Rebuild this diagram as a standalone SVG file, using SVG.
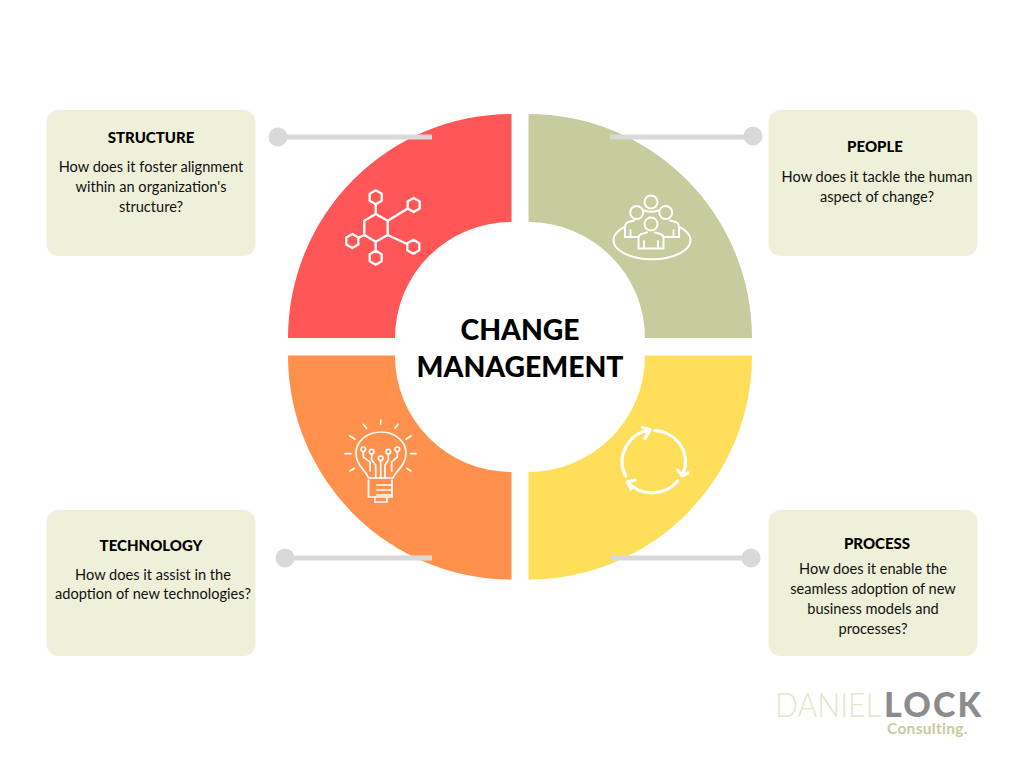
<svg xmlns="http://www.w3.org/2000/svg" width="1024" height="768" viewBox="0 0 1024 768">
<style>
.card{fill:#eff0da}
.h{font:900 15px "Lato","Liberation Sans",sans-serif;fill:#000;text-anchor:middle}
.b{font:400 14.600px "Lato","Liberation Sans",sans-serif;fill:#111;text-anchor:middle}
.t{font:900 28.300px "Lato","Liberation Sans",sans-serif;fill:#000;text-anchor:middle}
.ln{stroke:#d9d9d9;stroke-width:5;fill:none}
.dot{fill:#d9d9d9}
.ic{fill:none;stroke:#fff;stroke-width:2;stroke-linecap:round;stroke-linejoin:round}
.ic3{fill:none;stroke:#fff;stroke-width:3.200;stroke-linecap:round;stroke-linejoin:round}
.hex{fill:none;stroke:#fff;stroke-width:2.300;stroke-linecap:round;stroke-linejoin:round}
.bulb{fill:none;stroke:#fff;stroke-width:1.700;stroke-linecap:round;stroke-linejoin:round}
</style>
<defs>
<path id="sh" d="M0,-7L6,-3.500V3.500L0,7L-6,3.500V-3.500Z"/>
</defs>
<rect width="1024" height="768" fill="#fff"/>
<g id="ring">
<path id="seg-structure" fill="#ff5757" d="M288,338A223.500,224 0 0 1 511.500,114V222A116,116 0 0 0 395,338Z"/>
<path id="seg-people" fill="#c7cc9e" d="M528.500,114A223.500,224 0 0 1 752,338H645A117,116 0 0 0 528.500,222Z"/>
<path id="seg-technology" fill="#ff914d" d="M288,355.500A223.500,224 0 0 0 511.500,579.500V472A116,116 0 0 1 395,355.500Z"/>
<path id="seg-process" fill="#ffde59" d="M752,355.500A223.500,224 0 0 1 528.500,579.500V472A117,116 0 0 0 645,355.500Z"/>
</g>
<g id="connectors">
<line class="ln" x1="278" y1="137" x2="432" y2="137"/><circle class="dot" cx="278" cy="137" r="9.500"/>
<line class="ln" x1="610" y1="137" x2="753" y2="137"/><circle class="dot" cx="753" cy="136" r="9.500"/>
<line class="ln" x1="285" y1="558" x2="432" y2="558"/><circle class="dot" cx="285" cy="558" r="9.500"/>
<line class="ln" x1="610" y1="558" x2="751" y2="558"/><circle class="dot" cx="751" cy="558" r="9.500"/>
</g>
<g id="node-structure">
<rect class="card" x="46.500" y="110" width="209" height="146" rx="12"/>
<text class="h" x="151" y="143">STRUCTURE</text>
<text class="b" x="151" y="172">How does it foster alignment</text>
<text class="b" x="151" y="192">within an organization's</text>
<text class="b" x="151" y="212">structure?</text>
<g class="hex">
<path d="M375.700,214L387.700,220.700V235L375.700,241.700L364.300,235V220.700Z"/>
<path d="M375.700,204.300V214M387.700,220.700L407,209M387.700,235L407,244M375.700,241.700V251M364.300,235L358.500,238"/>
<use href="#sh" x="375.700" y="197.300"/>
<use href="#sh" x="413.700" y="205"/>
<use href="#sh" x="413.300" y="246.700"/>
<use href="#sh" x="375.700" y="257.700"/>
<use href="#sh" x="352.300" y="241"/>
</g>
</g>
<g id="node-people">
<rect class="card" x="768.500" y="110" width="209" height="146" rx="12"/>
<text class="h" x="875" y="152">PEOPLE</text>
<text class="b" x="877" y="182">How does it tackle the human</text>
<text class="b" x="877" y="202">aspect of change?</text>
<g class="ic">
<path d="M625.300,226.600A38.500,19 0 1 0 678.700,226.600"/>
<circle cx="651" cy="202" r="6.500"/>
<path d="M644.500,210.500Q651,213 658,210.500"/>
<circle cx="636.700" cy="212.500" r="6.500"/>
<circle cx="665.700" cy="212.500" r="6.500"/>
<circle cx="651" cy="224" r="6.500"/>
<path d="M625,237V227Q625,222.500 630,221.500L634,220.500M625,237H639"/>
<path d="M679,237V227Q679,222.500 674,221.500L670,220.500M679,237H664"/>
<path d="M630.500,237V230M673.500,237V230"/>
<path d="M638.500,248.500V238Q638.500,234.500 643,233.500L647,232.500M663.500,248.500V238Q663.500,234.500 659,233.500L655,232.500M638.500,248.500H663.500M644,248.500V241M658,248.500V241"/>
</g>
</g>
<g id="node-technology">
<rect class="card" x="46.500" y="510" width="209" height="146" rx="12"/>
<text class="h" x="151" y="551">TECHNOLOGY</text>
<text class="b" x="153" y="580">How does it assist in the</text>
<text class="b" x="153" y="599">adoption of new technologies?</text>
<g class="bulb">
<path d="M368.500,478C366,470 356,466 356,453A25,21 0 0 1 406,453C406,466 396,470 393,478Z"/>
<path d="M368.500,480V497H392V480M375,497V502H387V497M377,485H392M377,490H392M377,495H392"/>
<circle cx="380.700" cy="458.300" r="2.300"/>
<circle cx="363.300" cy="449.300" r="2.300"/>
<circle cx="371.700" cy="451.700" r="2.300"/>
<circle cx="388.300" cy="451.700" r="2.300"/>
<circle cx="397.300" cy="449.300" r="2.300"/>
<path d="M380.700,460.600V478M363.300,451.600V457L370,462V471M371.700,454V460L375.700,465V478M388.300,454V460L385,465V478M397.300,451.600V457L391.700,462V471"/>
<path d="M380.700,420V424M363.300,424.300L366.500,428.300M398,424.300L395,428.300M350,436L355,439.300M411,436L406,439.300M345,453.700H351M411,453.700H416M350,471L354.300,468.300M411,471L406.700,468.300"/>
</g>
</g>
<g id="node-process">
<rect class="card" x="768.500" y="510" width="209" height="146" rx="12"/>
<text class="h" x="877" y="549">PROCESS</text>
<text class="b" x="873" y="574">How does it enable the</text>
<text class="b" x="873" y="594">seamless adoption of new</text>
<text class="b" x="873" y="614">business models and</text>
<text class="b" x="873" y="634">processes?</text>
<g class="ic3">
<path d="M655,430.700A32.700,31 0 0 1 682.300,475"/>
<path d="M677.700,470L682.300,475.700L688,473"/>
<path d="M677.700,480.700A32.700,32 0 0 1 628,482.500"/>
<path d="M635,480L627.300,481.700L631,489"/>
<path d="M625.700,476A32.700,32 0 0 1 650,430"/>
<path d="M642.300,427.300L650,430L645,438.300"/>
</g>
</g>
<g id="node-center">
<text class="t" x="520" y="340">CHANGE</text>
<text class="t" x="520" y="377">MANAGEMENT</text>
</g>
<g id="logo">
<text x="775" y="717" textLength="106" lengthAdjust="spacingAndGlyphs" style="font:300 34px 'Lato','Liberation Sans',sans-serif;fill:#e4e6c8">DANIEL</text>
<text x="884" y="717" style="font:900 34px 'Lato','Liberation Sans',sans-serif;fill:#8c8c8c;letter-spacing:2.200px">LOCK</text>
<text x="887" y="733.500" style="font:700 15.500px 'Lato','Liberation Sans',sans-serif;fill:#c7cc9e;letter-spacing:.3px">Consulting.</text>
</g>
</svg>
